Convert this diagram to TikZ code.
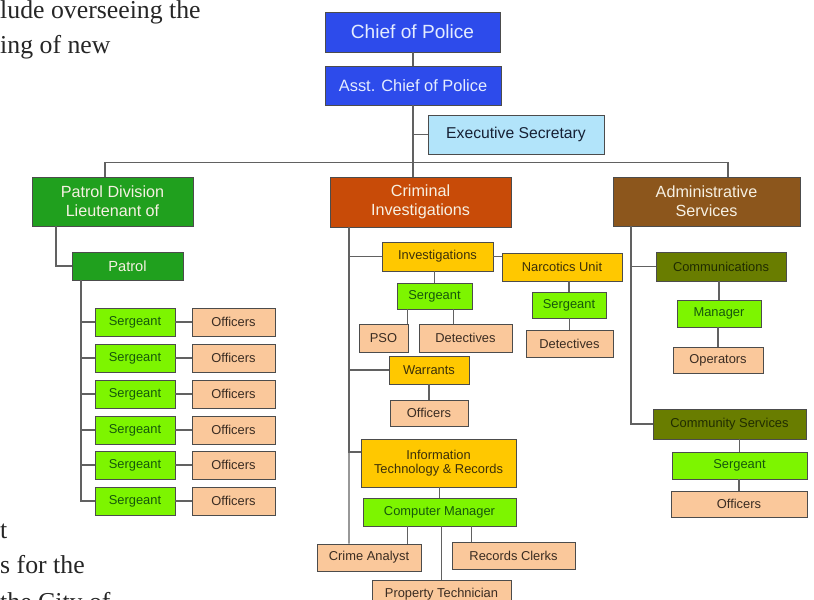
\documentclass[tikz,border=0pt]{standalone}
\usepackage{fontspec}
\setmainfont{Liberation Serif}
\setsansfont{Liberation Sans}
\usetikzlibrary{shapes,arrows,positioning,calc,fit}
\definecolor{chiefblue}{RGB}{45,75,235}
\definecolor{chieftext}{RGB}{228,236,255}
\definecolor{secblue}{RGB}{178,228,250}
\definecolor{sectext}{RGB}{22,32,52}
\definecolor{patgreen}{RGB}{32,160,30}
\definecolor{crimorange}{RGB}{200,75,8}
\definecolor{adminbrown}{RGB}{140,86,28}
\definecolor{headtext}{RGB}{246,240,226}
\definecolor{unityellow}{RGB}{255,200,0}
\definecolor{unittext}{RGB}{60,48,10}
\definecolor{sergreen}{RGB}{125,245,0}
\definecolor{sergtext}{RGB}{22,88,12}
\definecolor{peach}{RGB}{250,200,155}
\definecolor{stafftext}{RGB}{58,44,34}
\definecolor{olivebox}{RGB}{105,125,0}
\definecolor{olivetext}{RGB}{32,44,0}
\begin{document}
\begin{tikzpicture}[x=0.03cm,y=-0.03cm,
  box/.style={draw=black!70,line width=0.8pt,align=center,inner sep=1pt,font=\sffamily\fontsize{11}{12.5}\selectfont},
  sz/.style 2 args={minimum width=#1cm,minimum height=#2cm},
  rank/.style={box,fill=chiefblue,text=chieftext},
  division/.style={box,text=headtext,font=\sffamily\fontsize{13.8}{16}\selectfont},
  unit/.style={box,fill=unityellow,text=unittext},
  serg/.style={box,fill=sergreen,text=sergtext},
  staff/.style={box,fill=peach,text=stafftext},
  section/.style={box,fill=olivebox,text=olivetext},
  wire/.style={draw=black!62,line width=1.2pt},
  page/.style={anchor=base west,inner sep=0pt,text=black!85,font=\fontsize{22}{26}\selectfont}]
  \useasboundingbox (0,0) rectangle (814,600);
  \clip (0,0) rectangle (814,600);
  \fill[white] (0,0) rectangle (814,600);

  \node[page] (p1) at (0,18.5) {lude overseeing the};
  \node[page] (p2) at (0,54) {ing of new};
  \node[page] (p3) at (0,538) {t};
  \node[page] (p4) at (0,573) {s for the};
  \node[page] (p5) at (0,610) {the City of};

  \node[rank,sz={5.25}{1.2},font=\sffamily\fontsize{16.3}{18}\selectfont] (chief) at (412.5,32) {Chief of Police};
  \node[rank,sz={5.28}{1.17},font=\sffamily\fontsize{14}{16}\selectfont] (asst) at (413,85.5) {Asst. Chief of Police};
  \node[box,fill=secblue,text=sectext,sz={5.28}{1.17},font=\sffamily\fontsize{13.4}{15}\selectfont] (exec) at (516,134.5) {Executive Secretary};
  \node[division,fill=patgreen,sz={4.83}{1.47}] (patdiv) at (112.5,201.5) {Patrol Division\\Lieutenant of};
  \node[division,fill=crimorange,sz={5.43}{1.5}] (crim) at (420.5,202) {Criminal\\Investigations};
  \node[division,fill=adminbrown,sz={5.61}{1.47}] (admin) at (706.5,201.5) {Administrative\\Services};

  \node[box,fill=patgreen,text=headtext,sz={3.33}{0.84},font=\sffamily\fontsize{12.5}{14}\selectfont] (patrol) at (127.5,266) {Patrol};
  \foreach \y [count=\i] in {322,358,394,430,465,501} {
    \node[serg,sz={2.4}{0.84}] (s\i) at (135,\y) {Sergeant};
    \node[staff,sz={2.49}{0.84}] (o\i) at (233.5,\y) {Officers};
    \draw[wire] (s\i.east) -- (o\i.west);
    \draw[wire] ([xshift=-1.395cm]patrol.south) |- (s\i.west);
  }

  \node[unit,sz={3.33}{0.87}] (inv) at (437.5,256.5) {Investigations};
  \node[unit,sz={3.6}{0.84}] (narc) at (562,267) {Narcotics Unit};
  \node[serg,sz={2.25}{0.78}] (invserg) at (434.5,296) {Sergeant};
  \node[staff,sz={1.47}{0.84}] (pso) at (383.5,338) {PSO};
  \node[staff,sz={2.79}{0.84}] (invdet) at (465.5,338) {Detectives};
  \node[serg,sz={2.22}{0.78}] (narcserg) at (569,305) {Sergeant};
  \node[staff,sz={2.61}{0.81}] (narcdet) at (569.5,343.5) {Detectives};
  \node[unit,sz={2.4}{0.84}] (warrants) at (429,370) {Warrants};
  \node[staff,sz={2.34}{0.78}] (warroff) at (429,413) {Officers};
  \node[unit,sz={4.65}{1.44}] (itr) at (438.5,463) {Information\\Technology \& Records};
  \node[serg,sz={4.59}{0.84}] (compmgr) at (439.5,512) {Computer Manager};
  \node[staff,sz={3.12}{0.81}] (analyst) at (369,557.5) {Crime Analyst};
  \node[staff,sz={3.69}{0.81}] (clerks) at (513.5,555.5) {Records Clerks};
  \node[staff,sz={4.17}{0.84}] (proptech) at (441.5,594) {Property Technician};

  \node[section,sz={3.9}{0.87}] (comms) at (721,266.5) {Communications};
  \node[serg,sz={2.52}{0.81}] (manager) at (719,313.5) {Manager};
  \node[staff,sz={2.7}{0.78}] (operators) at (718,360) {Operators};
  \node[section,sz={4.59}{0.9}] (commsvc) at (729.5,424) {Community Services};
  \node[serg,sz={4.05}{0.81}] (cserg) at (739.5,465.5) {Sergeant};
  \node[staff,sz={4.08}{0.78}] (coff) at (739,504) {Officers};

  \draw[wire] (asst.north) -- (asst.north |- chief.south);
  \draw[wire] (asst.south) -- (asst.south |- crim.north);
  \draw[wire] (exec.west) -- (exec.west -| asst.south);
  \draw[wire] ([xshift=-0.225cm]patdiv.north) -- ++(0,0.42cm) -| ([xshift=0.645cm]admin.north);
  \draw[wire] ([xshift=-1.695cm]patdiv.south) |- (patrol.west);

  \foreach \n in {inv,warrants} \draw[wire] ([xshift=-2.145cm]crim.south) |- (\n.west);
  \draw[wire] ([xshift=-2.145cm]crim.south) |- ([yshift=0.33cm]itr.west);
  \draw[wire] ([xshift=-2.145cm]crim.south) -- ([xshift=-0.6cm]analyst.north);
  \draw[wire] (inv.east) -- (inv.east -| narc.west);
  \draw[wire] (invserg.north) -- (invserg.north |- inv.south);
  \draw[wire] ([xshift=-0.03cm]pso.north east) -- ++(0,0.45cm);
  \draw[wire] ([xshift=1.05cm]invdet.north west) -- ++(0,0.45cm);
  \draw[wire] (narcserg.north) -- (narcserg.north |- narc.south);
  \draw[wire] (narcdet.north) -- (narcdet.north |- narcserg.south);
  \draw[wire] (warroff.north) -- (warrants.south);
  \draw[wire] (compmgr.north) -- (compmgr.north |- itr.south);
  \draw[wire] ([xshift=-0.42cm]analyst.north east) -- ++(0,0.54cm);
  \draw[wire] ([xshift=0.6cm]clerks.north west) -- ++(0,0.48cm);
  \draw[wire] (proptech.north) -- (proptech.north |- compmgr.south);

  \draw[wire] ([xshift=-2.265cm]admin.south) |- (comms.west);
  \draw[wire] ([xshift=-2.265cm]admin.south) |- (commsvc.west);
  \draw[wire] (manager.north) -- (manager.north |- comms.south);
  \draw[wire] (operators.north) -- (operators.north |- manager.south);
  \draw[wire] (cserg.north) -- (cserg.north |- commsvc.south);
  \draw[wire] (coff.north) -- (coff.north |- cserg.south);
\end{tikzpicture}
\end{document}
